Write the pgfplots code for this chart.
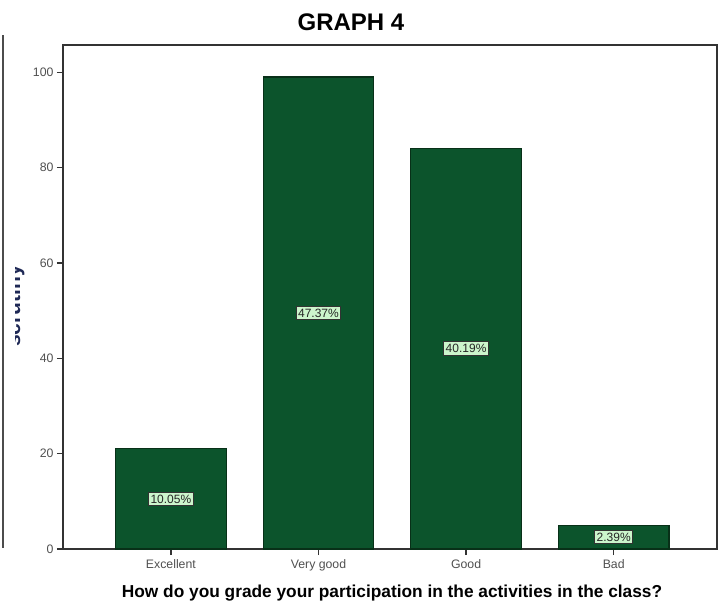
\documentclass[border=0pt]{standalone}
\usepackage{pgfplots}
\pgfplotsset{compat=1.18}
\usepackage{pgfplotstable}
\usepackage{fontspec}
\setmainfont{Liberation Sans}

\definecolor{barfill}{RGB}{12,84,44}
\definecolor{baredge}{RGB}{8,48,24}
\definecolor{tagfill}{RGB}{204,245,204}
\definecolor{framegray}{RGB}{51,51,51}
\definecolor{ticktext}{RGB}{80,80,80}
\definecolor{labelnavy}{RGB}{30,40,85}

% counts per answer and their share of the 209 responses
\pgfplotstableread{
x count pct
0 21 10.05
1 99 47.37
2 84 40.19
3 5 2.39
}\gradedata

\begin{document}
\begin{tikzpicture}
\useasboundingbox (0pt,0pt) rectangle (727pt,-605pt);

% panel edge on the left
\draw[gray!60!black, line width=2pt] (3pt,-35pt) -- (3pt,-548pt);

% y-axis title, partly cut off by the panel
\begin{scope}
  \clip (15pt,-180pt) rectangle (40pt,-420pt);
  \node[rotate=90, anchor=base, inner sep=0pt, text=labelnavy,
        font=\bfseries\fontsize{21}{24}\selectfont] at (20pt,-306pt) {scrutiny};
\end{scope}

\node[anchor=base, font=\bfseries\fontsize{24}{28}\selectfont] at (351pt,-30pt) {GRAPH 4};
\node[anchor=base, font=\bfseries\fontsize{17.3}{20}\selectfont] at (392pt,-597pt)
  {How do you grade your participation in the activities in the class?};

\begin{axis}[
  at={(63pt,-45pt)}, anchor=north west,
  scale only axis, width=654pt, height=504pt,
  ybar, bar width=0.75,
  xmin=-0.731, xmax=3.70, ymin=0, ymax=105.7,
  xtick={0,1,2,3},
  xticklabels={Excellent,Very good,Good,Bad},
  ytick={0,20,40,60,80,100},
  xtick pos=bottom, ytick pos=left,
  tick align=outside,
  major tick length=6pt,
  major tick style={draw=framegray, line width=1.3pt},
  axis line style={framegray, line width=1.8pt},
  tick label style={font=\fontsize{12.3}{14}\selectfont, text=ticktext},
  /pgf/number format/assume math mode=true,
  xticklabel style={yshift=-1pt},
  clip=false,
]
\addplot[
  fill=barfill, draw=baredge, line width=1.2pt,
  point meta=explicit symbolic,
  visualization depends on={y \as \rawy},
  nodes near coords={\pgfplotspointmeta\%},
  every node near coord/.append style={
    anchor=center, shift={(axis direction cs:0,-\rawy/2)},
    fill=tagfill, draw=black!80, line width=1pt,
    inner xsep=2pt, inner ysep=2.5pt, text=black!85,
    font=\fontsize{12}{14}\selectfont},
] table[x=x, y=count, meta=pct] {\gradedata};
\end{axis}
\end{tikzpicture}
\end{document}
